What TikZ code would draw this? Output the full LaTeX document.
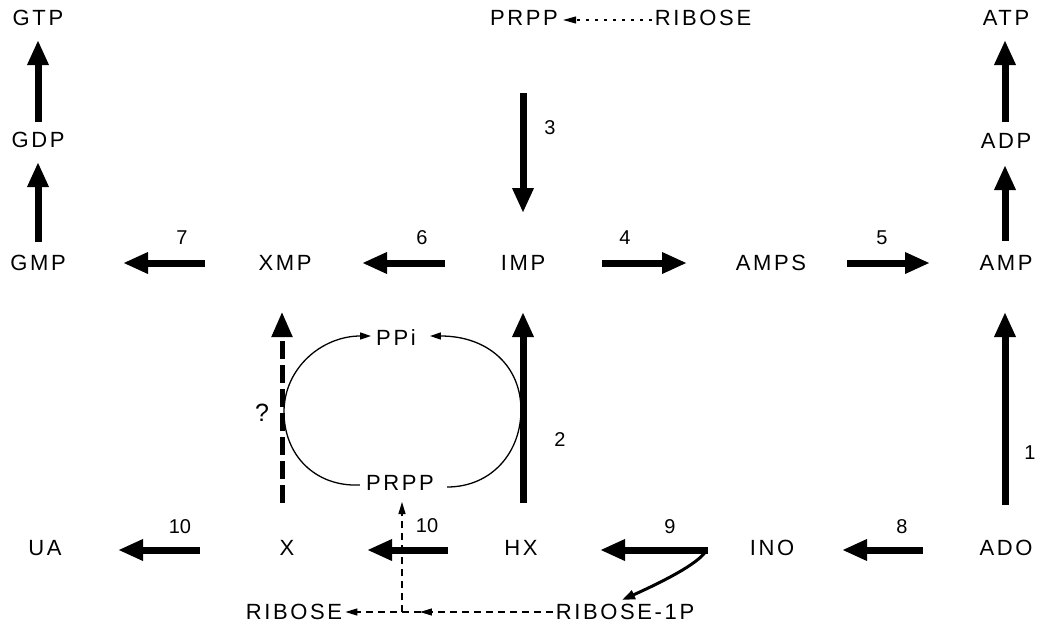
\documentclass[tikz,border=0pt]{standalone}
\usepackage{fontspec}
\setmainfont{Liberation Sans}
\newfontfamily\lblfont[LetterSpace=12]{Liberation Sans}
\usetikzlibrary{arrows.meta,calc,decorations.markings}
\begin{document}
\begin{tikzpicture}[x=1pt,y=-1pt,
  lbl/.style={font=\lblfont\fontsize{22}{26}\selectfont, inner sep=0pt},
  num/.style={font=\fontsize{20}{24}\selectfont, inner sep=0pt},
  bigarr/.style={line width=7pt, -{Triangle[length=25pt,width=20pt]}},
  qarr/.style={line width=5pt, dash pattern=on 18pt off 6pt, -{Triangle[length=25pt,width=20pt]}},
  midarr/.style={line width=3pt, -{Triangle[length=13pt,width=9pt]}},
  thinarr/.style={line width=1.3pt, -{Triangle[length=11pt,width=7pt]}},
  dsh/.style={line width=1.2pt, dash pattern=on 7pt off 5pt, -{Triangle[length=12pt,width=7pt]}},
  dshtop/.style={line width=1.1pt, dash pattern=on 3pt off 6pt, -{Triangle[length=13pt,width=7pt]}},
]
\useasboundingbox (0,0) rectangle (1050,632);

% nodes
\node[lbl] (GTP) at (38,18) {GTP};
\node[lbl] (GDP) at (38,140) {GDP};
\node[lbl] (GMP) at (38,263) {GMP};
\node[lbl] (XMP) at (285,263) {XMP};
\node[lbl] (IMP) at (523,263) {IMP};
\node[lbl] (AMPS) at (771,263) {AMPS};
\node[lbl] (AMP) at (1006,263) {AMP};
\node[lbl] (ADP) at (1006,141) {ADP};
\node[lbl] (ATP) at (1006,18) {ATP};
\node[lbl] (PRPPt) at (524,18) {PRPP};
\node[lbl] (RIBt) at (703,18) {RIBOSE};
\node[lbl] (PPi) at (396,338) {PPi};
\node[lbl] (PRPPm) at (400,483) {PRPP};
\node[lbl] (UA) at (45,548) {UA};
\node[lbl] (X) at (287,548) {X};
\node[lbl] (HX) at (521,548) {HX};
\node[lbl] (INO) at (772,548) {INO};
\node[lbl] (ADO) at (1006,548) {ADO};
\node[lbl] (RIBb) at (294,612) {RIBOSE};
\node[lbl] (RIB1P) at (625,612) {RIBOSE-1P};

% number labels
\node[num] (n7) at (182,238) {7};
\node[num] (n6) at (422,238) {6};
\node[num] (n4) at (625,238) {4};
\node[num] (n5) at (882,238) {5};
\node[num] (n3) at (550,128) {3};
\node[num] (n2) at (560,440) {2};
\node[num] (n1) at (1030,453) {1};
\node[num,font=\fontsize{25}{28}\selectfont] (nq) at (262,413) {?};
\node[num] (n10a) at (180,527) {10};
\node[num] (n10b) at (427,526) {10};
\node[num] (n9) at (670,527) {9};
\node[num] (n8) at (902,527) {8};

% vertical phosphorylation arrows
\draw[bigarr] ($(GMP)+(0,-21)$) -- ($(GDP)+(0,22)$);
\draw[bigarr] ($(GDP)+(0,-18)$) -- ($(GTP)+(0,22)$);
\draw[bigarr] ($(AMP)+(-1,-22)$) -- ($(ADP)+(-1,24)$);
\draw[bigarr] ($(ADP)+(-1,-19)$) -- ($(ATP)+(-1,22)$);

% middle row
\draw[bigarr] ($(XMP)+(-80,0)$) -- ($(GMP)+(85,0)$);
\draw[bigarr] ($(IMP)+(-78,0)$) -- ($(XMP)+(77,0)$);
\draw[bigarr] ($(IMP)+(79,0)$) -- ($(AMPS)+(-84,0)$);
\draw[bigarr] ($(AMPS)+(76,0)$) -- ($(AMP)+(-76,0)$);
\draw[bigarr] ($(PRPPt)+(-1,75)$) -- ($(IMP)+(0,-50)$);

% verticals from bottom row
\draw[bigarr] ($(HX)+(2,-45)$) -- ($(IMP)+(0,49)$);
\draw[qarr] ($(X)+(-5,-45)$) -- ($(XMP)+(-3,49)$);
\draw[bigarr] ($(ADO)+(-1,-43)$) -- ($(AMP)+(-1,49)$);

% bottom row
\draw[bigarr] ($(X)+(-87,2)$) -- ($(UA)+(73,2)$);
\draw[bigarr] ($(HX)+(-73,2)$) -- ($(X)+(80,2)$);
\draw[bigarr] ($(INO)+(-64,2)$) -- ($(HX)+(79,2)$);
\draw[bigarr] ($(ADO)+(-83,2)$) -- ($(INO)+(70,2)$);
\draw[midarr] ($(INO)+(-66,3)$) .. controls ($(INO)+(-74,16)$) and ($(INO)+(-110,34)$) .. ($(RIB1P)+(-3,-12)$);

% PPi / PRPP loop
\draw[thinarr] ($(PRPPm.west)+(-6,2)$) .. controls (315,487) and (284,455) .. (284,412)
   .. controls (284,368) and (322,336) .. ($(PPi.west)+(-5,-2)$);
\draw[thinarr] ($(PRPPm.east)+(13,4)$) .. controls (492,487) and (521,452) .. (521,410)
   .. controls (521,366) and (488,336) .. ($(PPi.east)+(14,-2)$);

% ribose dashed connections
\draw[dshtop] ($(RIBt.west)+(-3,2)$) -- ($(PRPPt.east)+(5,2)$);
\coordinate (Jx) at ($(PRPPm)+(2,0)$);
\coordinate (J) at (Jx |- RIBb);
\draw[dsh, postaction={decorate, decoration={markings, mark=at position 0.64 with {\arrow{Triangle[length=12pt,width=7pt]}}}}]
   ($(RIB1P.west)+(-3,0)$) -- ($(RIBb.east)+(3,0)$);
\draw[dsh] (J) -- ($(PRPPm)+(2,19)$);
\end{tikzpicture}
\end{document}
